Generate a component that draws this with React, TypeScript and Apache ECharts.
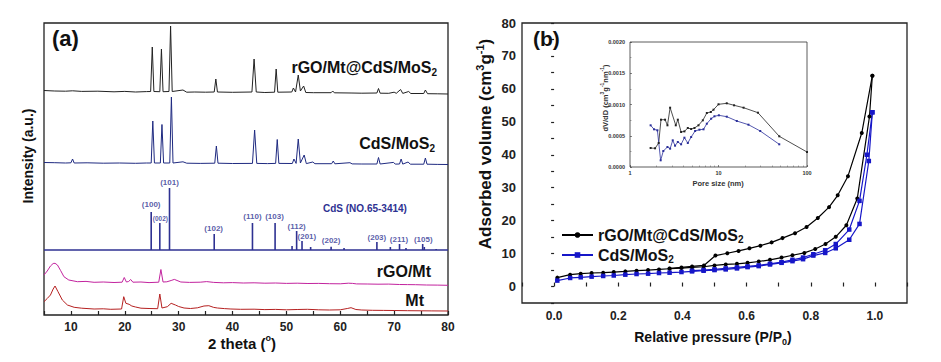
import { useEffect, useRef } from 'react';
import * as echarts from 'echarts';

const FONT = 'Arial, "Liberation Sans", Helvetica, sans-serif';

// ---------- (a) XRD data: [2theta, intensity (a.u., stacked)] ----------
const xrdComposite: number[][] = [
  [5, 224.5], [7, 224], [9, 223.8], [10.3, 224.2], [12, 223.6], [15, 223.8], [18, 223.2], [20, 223.6], [22, 223], [24, 223.4],
  [24.8, 223.5], [25.1, 268], [25.4, 223.5],
  [26.5, 223.3], [26.8, 266], [27.1, 223.3],
  [28.2, 223.5], [28.5, 289], [28.8, 223.5],
  [30.8, 225], [31.5, 222.8], [33, 223], [35, 222.8],
  [36.6, 223], [36.9, 236], [37.2, 223],
  [40, 222.7], [43.6, 223], [44.0, 256], [44.4, 223],
  [46, 222.5], [47.8, 222.8], [48.1, 246], [48.4, 222.8],
  [51.0, 223], [51.3, 227], [51.7, 223], [52.2, 240], [52.6, 224], [53.2, 229], [53.6, 222.5],
  [55, 222.3], [58.3, 222.3], [58.6, 224], [58.9, 222.2], [62, 222], [64, 221.8],
  [66.8, 222], [67.1, 226.5], [67.4, 221.8], [69, 221.7], [70, 222.8], [70.4, 221.7], [71.2, 225.5], [71.6, 221.6],
  [72.7, 223.5], [73.1, 221.5], [75.5, 221.5], [75.8, 225], [76.2, 221.3], [78, 221.2], [80, 221],
];
const xrdCdSMoS2: number[][] = [
  [5, 152.5], [7, 152.3], [9, 152], [10, 152.2], [10.3, 156], [10.6, 152], [13, 152.2], [16, 151.8], [19, 152], [22, 151.7], [24, 152],
  [24.9, 152], [25.2, 194], [25.5, 152],
  [26.6, 152], [26.9, 190.5], [27.2, 152],
  [28.35, 152], [28.65, 218], [28.95, 152],
  [30.8, 153.2], [31.5, 151.8], [34, 151.6],
  [36.7, 151.8], [37.0, 169], [37.3, 151.8],
  [40, 151.5], [43.7, 151.6], [44.1, 185], [44.5, 151.6],
  [46.5, 151.4], [48.0, 151.6], [48.3, 175.5], [48.6, 151.6],
  [51.1, 151.5], [51.4, 156], [51.8, 151.6], [52.2, 176], [52.6, 152], [53.3, 160], [53.7, 151.4],
  [54.9, 153], [55.3, 151.3], [58.4, 151.3], [58.7, 154], [59.0, 151.2], [61.8, 152.3], [62.2, 151.1], [64, 151],
  [66.8, 151], [67.1, 157.5], [67.4, 151], [69.9, 152.6], [70.2, 150.9], [71.0, 151], [71.3, 156], [71.6, 150.9],
  [72.6, 153], [73, 150.8], [75.5, 150.8], [75.8, 157], [76.1, 150.8], [78, 150.6], [80, 150.5],
];
const cdsRefBase = 65;
const cdsRefLine: number[][] = [[5, 65], [80, 65]];
const cdsSticks: number[][] = [
  [24.9, 103], [26.5, 92], [28.3, 127], [36.6, 81], [43.7, 92], [47.9, 92], [51.05, 69], [51.9, 84], [52.9, 74],
  [54.5, 68], [58.3, 68.3], [60.7, 67], [66.8, 73], [69.3, 68], [71.0, 71], [72.2, 67], [75.3, 71], [75.6, 68], [77.8, 66],
];
const cdsStickLabels: [string, number, number][] = [
  ['(100)', 24.9, 111], ['(002)', 26.6, 97], ['(101)', 28.3, 133], ['(102)', 36.5, 87], ['(110)', 43.7, 99],
  ['(103)', 47.8, 99], ['(112)', 51.9, 89], ['(201)', 53.8, 79], ['(202)', 58.3, 75], ['(203)', 66.8, 78],
  ['(211)', 70.9, 76], ['(105)', 75.4, 76],
];
const xrdRGOMt: number[][] = [
  [5, 40], [5.6, 44], [6.2, 49], [6.7, 51.5], [7.05, 51.7], [7.5, 50], [8.1, 44.3], [8.7, 38.3], [9.6, 35], [11.2, 33.3],
  [12.8, 33.6], [14.3, 32.7], [16, 33], [18, 32.5], [19.5, 32.8], [19.9, 37.5], [20.3, 33], [20.7, 33.5], [21.1, 35.5],
  [21.5, 32.8], [23, 33], [24.5, 32.4], [26.3, 32.8], [26.7, 45.5], [27.1, 33], [27.8, 33.2], [28.6, 34.5], [29.2, 35.6],
  [30.4, 33], [32, 32.6], [34, 32.8], [35.2, 33.4], [36.5, 32.6], [38.3, 32.2], [40, 32.4], [42, 32], [44, 32.2], [46, 31.8],
  [48, 32], [50, 31.6], [52, 31.8], [54, 31.5], [56, 31.6], [58, 31.3], [60, 31.2], [61.5, 31.8], [62.3, 31.6], [63, 31.1],
  [65, 31], [67, 30.8], [69, 30.9], [71, 30.5], [72.5, 30.4], [74, 30.3], [76, 30], [78, 29.9], [80, 29.7],
];
const xrdMt: number[][] = [
  [5, 13.3], [5.6, 16.5], [6.2, 20], [6.7, 26], [7.05, 29], [7.6, 23.3], [8.4, 15], [9.35, 10], [10.6, 7.7], [12, 6.8],
  [14.3, 6], [16, 6.2], [17.4, 5.7], [19.4, 6], [19.8, 18.3], [20.2, 11.7], [20.8, 10.7], [21.3, 9], [22, 8], [23, 6.8],
  [24.5, 6.5], [26.1, 6.3], [26.5, 21], [26.9, 7], [27.9, 8.3], [28.6, 11.7], [29.4, 10], [30, 8.5], [31, 7], [32.2, 6.5],
  [33.5, 7.2], [34.7, 9], [35.6, 9.3], [36.5, 7.6], [37.2, 7], [38.5, 6.4], [39.7, 6], [41.5, 5.7], [44, 5.8], [46, 5.4],
  [48, 5.6], [50, 5.2], [52, 5.5], [53.9, 5.7], [56, 5.2], [58, 5], [60, 5.2], [61.3, 6.5], [62, 7.3], [62.9, 5.5], [64, 5],
  [66, 4.7], [68, 4.6], [70, 4.5], [72.5, 4.3], [75, 4.2], [77, 4.1], [80, 4],
];

// ---------- (b) N2 isotherms: [P/P0, volume] ----------
const isoCompositeAds: number[][] = [
  [0.01, 2.7], [0.05, 3.6], [0.083, 3.9], [0.117, 4.1], [0.153, 4.2], [0.186, 4.4], [0.222, 4.6], [0.257, 4.8], [0.293, 5.0],
  [0.327, 5.2], [0.36, 5.4], [0.397, 5.6], [0.43, 5.8], [0.466, 6.0], [0.5, 6.4], [0.535, 6.7], [0.57, 6.9], [0.603, 7.2],
  [0.638, 7.6], [0.673, 8.1], [0.709, 8.8], [0.743, 9.5], [0.78, 10.2], [0.814, 11.4], [0.846, 12.9], [0.878, 15.1],
  [0.911, 18.6], [0.945, 26.7], [0.983, 51.6], [0.992, 64.0],
];
const isoCompositeDes: number[][] = [
  [0.992, 64.0], [0.959, 46.6], [0.916, 33.5], [0.884, 27.7], [0.857, 24.1], [0.822, 20.8], [0.787, 18.1], [0.751, 16.2],
  [0.712, 14.7], [0.678, 13.4], [0.643, 12.4], [0.609, 11.6], [0.575, 10.8], [0.54, 10.1], [0.503, 9.4], [0.467, 6.4],
  [0.43, 6.1], [0.397, 5.8], [0.36, 5.5],
];
const isoCdSAds: number[][] = [
  [0.01, 1.8], [0.05, 2.6], [0.083, 2.8], [0.117, 3.0], [0.153, 3.2], [0.186, 3.35], [0.222, 3.6], [0.257, 3.8], [0.293, 3.9],
  [0.327, 4.1], [0.36, 4.2], [0.397, 4.4], [0.43, 4.6], [0.466, 4.8], [0.5, 5.0], [0.535, 5.2], [0.57, 5.5], [0.603, 5.9],
  [0.638, 6.2], [0.673, 6.7], [0.709, 7.2], [0.743, 7.7], [0.776, 8.3], [0.808, 9.4], [0.845, 10.2], [0.878, 11.6],
  [0.92, 14.2], [0.952, 19.0], [0.981, 38.1], [0.992, 52.9],
];
const isoCdSDes: number[][] = [
  [0.992, 52.9], [0.975, 40.0], [0.952, 26.0], [0.92, 17.3], [0.878, 12.9], [0.845, 11.0], [0.808, 9.8], [0.776, 8.8],
  [0.743, 8.1], [0.709, 7.4], [0.673, 6.9], [0.638, 6.4], [0.603, 6.1], [0.57, 5.8], [0.535, 5.5], [0.5, 5.2], [0.466, 5.0],
  [0.43, 4.8],
];

// ---------- (b) inset pore-size distribution: [pore size nm, dV/dD] ----------
const psdComposite: number[][] = [
  [1.71, 0.000304], [1.92, 0.000299], [2.11, 0.000384], [2.24, 0.000757], [2.49, 0.000757], [2.65, 0.000667],
  [2.84, 0.000949], [3.29, 0.000667], [3.47, 0.000757], [3.78, 0.00056], [4.12, 0.00057], [4.5, 0.000624],
  [4.91, 0.000608], [5.35, 0.000624], [5.94, 0.000667], [6.65, 0.000747], [7.38, 0.000864], [8.19, 0.00088],
  [8.78, 0.000917], [10, 0.001003], [12.4, 0.001019], [15, 0.000987], [19.2, 0.000949], [27.9, 0.000869],
  [48.6, 0.000491], [100, 0.00024],
];
const psdCdS: number[][] = [
  [1.71, 0.000667], [1.87, 0.000603], [2.04, 0.000587], [2.22, 0.000107], [2.38, 0.000256], [2.65, 0.00032],
  [2.84, 0.000293], [3.04, 0.000427], [3.23, 0.000341], [3.47, 0.0004], [3.78, 0.000363], [4.12, 0.000469],
  [4.5, 0.000384], [4.91, 0.00048], [5.44, 0.000576], [6.09, 0.000597], [6.77, 0.000603], [7.38, 0.000693],
  [8.26, 0.000773], [9.0, 0.000811], [10.1, 0.000827], [12.4, 0.000805], [16.1, 0.000736], [21.8, 0.000677],
  [29.6, 0.000576], [48.6, 0.000363],
];

const NAME_COMP = 'rGO/Mt@CdS/MoS2';
const NAME_CDS = 'CdS/MoS2';

const navy = '#2e3192';
const isoBlue = '#1616c8';

function txt(x: number, y: number, text: string, rich: any, extra: any = {}) {
  return {
    type: 'text',
    x,
    y,
    z: 100,
    ...extra,
    style: { text, rich, align: extra.align || 'center', verticalAlign: 'middle', fontFamily: FONT },
  };
}
function richSet(size: number, color = '#111') {
  return {
    a: { fontSize: size, fontWeight: 'bold', fontFamily: FONT, fill: color, lineHeight: size + 4 },
    s: { fontSize: Math.round(size * 0.62), fontWeight: 'bold', fontFamily: FONT, fill: color, lineHeight: Math.round(size * 0.62), verticalAlign: 'bottom' },
    p: { fontSize: Math.round(size * 0.62), fontWeight: 'bold', fontFamily: FONT, fill: color, lineHeight: Math.round(size * 0.62), verticalAlign: 'top' },
  };
}

export default function App() {
  const ref = useRef<HTMLDivElement>(null);
  useEffect(() => {
    const chart = echarts.init(ref.current!, null, { renderer: 'svg' });
    const tickLabel = (size: number) => ({ fontSize: size, fontWeight: 'bold', fontFamily: FONT, color: '#222' });
    const option: any = {
      animation: false,
      backgroundColor: '#fff',
      grid: [
        { left: 44, top: 23, width: 404, height: 292, show: true, borderColor: '#222', borderWidth: 1.3, backgroundColor: 'transparent' },
        { left: 522, top: 23, width: 385, height: 280, show: true, borderColor: '#222', borderWidth: 1.3, backgroundColor: 'transparent' },
        { left: 630, top: 42, width: 177, height: 125, show: true, borderColor: '#333', borderWidth: 0.8, backgroundColor: '#fff' },
      ],
      xAxis: [
        {
          gridIndex: 0, type: 'value', min: 5, max: 80, interval: 5,
          axisLine: { show: false }, splitLine: { show: false },
          axisTick: { inside: true, length: 4, lineStyle: { color: '#222', width: 1.2 } },
          axisLabel: { ...tickLabel(12), margin: 6, formatter: (v: number) => (v % 10 === 0 ? String(v) : '') },
        },
        {
          gridIndex: 1, type: 'value', min: -0.1, max: 1.1, interval: 0.1,
          axisLine: { show: false }, splitLine: { show: false },
          axisTick: { inside: true, length: 4, lineStyle: { color: '#222', width: 1.2 } },
          axisLabel: {
            ...tickLabel(12), margin: 7,
            formatter: (v: number) => {
              const r = Math.round(v * 10);
              return r >= 0 && r <= 10 && r % 2 === 0 ? (r / 10).toFixed(1) : '';
            },
          },
        },
        {
          gridIndex: 2, type: 'log', logBase: 10, min: 1, max: 100,
          axisLine: { show: false }, splitLine: { show: false },
          axisTick: { inside: true, length: 2, lineStyle: { color: '#333', width: 0.6 } },
          minorTick: { show: true, splitNumber: 9, length: 1.5, lineStyle: { color: '#555', width: 0.5 } },
          axisLabel: { fontSize: 5.5, fontWeight: 'bold', fontFamily: FONT, color: '#333', margin: 3 },
        },
      ],
      yAxis: [
        { gridIndex: 0, type: 'value', min: 0, max: 292, show: false },
        {
          gridIndex: 1, type: 'value', min: -5, max: 80, interval: 5,
          axisLine: { show: false }, splitLine: { show: false },
          axisTick: { inside: false, length: 3, lineStyle: { color: '#222', width: 1.2 } },
          axisLabel: { ...tickLabel(13), margin: 6, formatter: (v: number) => (v >= 0 && v % 10 === 0 ? String(v) : '') },
        },
        {
          gridIndex: 2, type: 'value', min: 0, max: 0.002, interval: 0.0005,
          axisLine: { show: false }, splitLine: { show: false },
          axisTick: { inside: true, length: 2, lineStyle: { color: '#333', width: 0.6 } },
          minorTick: { show: true, splitNumber: 2, length: 1.5, lineStyle: { color: '#555', width: 0.5 } },
          axisLabel: { fontSize: 5.5, fontWeight: 'bold', fontFamily: FONT, color: '#333', margin: 5, formatter: (v: number) => v.toFixed(4) },
        },
      ],
      legend: {
        left: 556, top: 222, orient: 'vertical', itemWidth: 31, itemHeight: 7, itemGap: 3,
        data: [NAME_COMP, NAME_CDS],
        formatter: (name: string) => (name === NAME_COMP ? '{a|rGO/Mt@CdS/MoS}{s|2}' : '{a|CdS/MoS}{s|2}'),
        textStyle: {
          rich: {
            a: { fontSize: 16, fontWeight: 'bold', fontFamily: FONT, color: '#111', lineHeight: 18 },
            s: { fontSize: 10, fontWeight: 'bold', fontFamily: FONT, color: '#111', lineHeight: 10, verticalAlign: 'bottom' },
          },
        },
      },
      series: [
        { type: 'line', xAxisIndex: 0, yAxisIndex: 0, data: xrdComposite, symbol: 'none', lineStyle: { color: '#222', width: 1 } },
        { type: 'line', xAxisIndex: 0, yAxisIndex: 0, data: xrdCdSMoS2, symbol: 'none', lineStyle: { color: '#1f2a80', width: 1 } },
        { type: 'line', xAxisIndex: 0, yAxisIndex: 0, data: cdsRefLine, symbol: 'none', lineStyle: { color: navy, width: 1.3 } },
        {
          type: 'custom', xAxisIndex: 0, yAxisIndex: 0, data: cdsSticks,
          renderItem: (_p: any, api: any) => {
            const x = api.value(0);
            const top = api.value(1);
            const a = api.coord([x, cdsRefBase]);
            const b = api.coord([x, top]);
            return { type: 'line', shape: { x1: a[0], y1: a[1], x2: b[0], y2: b[1] }, style: { stroke: navy, lineWidth: 1.6 } };
          },
        },
        {
          type: 'scatter', xAxisIndex: 0, yAxisIndex: 0, symbolSize: 0, silent: true,
          data: cdsStickLabels.map(([t, x, y]) => ({
            name: t, value: [x, y],
            label: t === '(002)' ? { fontSize: 6.5 } : undefined,
          })),
          label: { show: true, position: 'inside', formatter: '{b}', fontSize: 8, fontWeight: 'bold', fontFamily: FONT, color: navy },
        },
        { type: 'line', xAxisIndex: 0, yAxisIndex: 0, data: xrdRGOMt, symbol: 'none', lineStyle: { color: '#c2239e', width: 1 } },
        { type: 'line', xAxisIndex: 0, yAxisIndex: 0, data: xrdMt, symbol: 'none', lineStyle: { color: '#b52020', width: 1 } },

        {
          name: NAME_COMP, type: 'line', xAxisIndex: 1, yAxisIndex: 1, data: isoCompositeAds,
          symbol: 'circle', symbolSize: 4, itemStyle: { color: '#000' }, lineStyle: { color: '#000', width: 1.2 },
        },
        {
          name: NAME_COMP, type: 'line', xAxisIndex: 1, yAxisIndex: 1, data: isoCompositeDes,
          symbol: 'circle', symbolSize: 4, itemStyle: { color: '#000' }, lineStyle: { color: '#000', width: 1.2 },
        },
        {
          name: NAME_CDS, type: 'line', xAxisIndex: 1, yAxisIndex: 1, data: isoCdSAds,
          symbol: 'rect', symbolSize: 4.5, itemStyle: { color: isoBlue }, lineStyle: { color: isoBlue, width: 1.2 },
        },
        {
          name: NAME_CDS, type: 'line', xAxisIndex: 1, yAxisIndex: 1, data: isoCdSDes,
          symbol: 'rect', symbolSize: 4.5, itemStyle: { color: isoBlue }, lineStyle: { color: isoBlue, width: 1.2 },
        },

        {
          type: 'line', xAxisIndex: 2, yAxisIndex: 2, data: psdComposite, z: 10,
          symbol: 'rect', symbolSize: 2, itemStyle: { color: '#222' }, lineStyle: { color: '#222', width: 0.8 },
        },
        {
          type: 'line', xAxisIndex: 2, yAxisIndex: 2, data: psdCdS, z: 10,
          symbol: 'rect', symbolSize: 2, itemStyle: { color: '#2a2f9a' }, lineStyle: { color: '#2a2f9a', width: 0.8 },
        },
      ],
      graphic: [
        txt(52, 38, '{a|(a)}', richSet(22), { align: 'left' }),
        txt(533, 38, '{a|(b)}', richSet(21), { align: 'left' }),
        txt(437, 67, '{a|rGO/Mt@CdS/MoS}{s|2}', richSet(16), { align: 'right' }),
        txt(435, 143, '{a|CdS/MoS}{s|2}', richSet(16), { align: 'right' }),
        txt(323, 208, '{a|CdS (NO.65-3414)}', richSet(10, navy), { align: 'left' }),
        txt(431, 271, '{a|rGO/Mt}', richSet(16), { align: 'right' }),
        txt(424, 300, '{a|Mt}', richSet(16), { align: 'right' }),
        txt(28, 156, '{a|Intensity (a.u.)}', richSet(14), { rotation: Math.PI / 2 }),
        txt(242, 343, '{a|2 theta (}{p|o}{a|)}', richSet(15)),
        txt(485, 144, '{a|Adsorbed volume (cm}{p|3}{a|g}{p|-1}{a|)}', richSet(17), { rotation: Math.PI / 2 }),
        txt(713, 337, '{a|Relative pressure (P/P}{s|0}{a|)}', richSet(14)),
        txt(605, 98, '{a|dV/dD (cm}{p|3}{a|g}{p|-1}{a|nm}{p|-1}{a|)}', richSet(7.5, '#333'), { rotation: Math.PI / 2 }),
        txt(718, 183, '{a|Pore size (nm)}', richSet(7.5, '#333')),
      ],
    };
    chart.setOption(option);
    return () => chart.dispose();
  }, []);
  return <div ref={ref} style={{ position: 'fixed', left: 0, top: 0, width: 941, height: 362, background: '#fff' }} />;
}
